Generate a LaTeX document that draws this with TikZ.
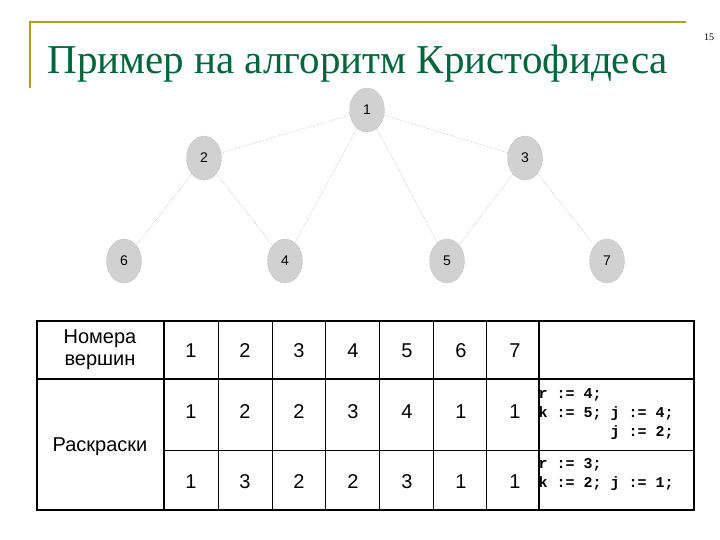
\documentclass[tikz,border=0pt]{standalone}
\usepackage{fontspec}
\setmainfont{Liberation Sans}
\newfontfamily\titlefont{Liberation Serif}
\newfontfamily\codefont{Liberation Mono}
\usetikzlibrary{shapes.geometric}
\definecolor{titlegreen}{RGB}{0,100,60}
\definecolor{gold}{RGB}{176,160,40}
\begin{document}
\begin{tikzpicture}[x=1pt,y=-1pt,
  vert/.style={ellipse,fill=black!18,draw=black!40,densely dotted,minimum width=35pt,minimum height=44pt,inner sep=0pt,font=\fontsize{14}{14}\selectfont},
  edge/.style={draw=black!40,densely dotted,thin},
  cell/.style={font=\fontsize{20}{22}\selectfont},
  code/.style={font=\codefont\bfseries\fontsize{15}{19}\selectfont,align=left,anchor=west}]
\useasboundingbox (0,0) rectangle (720,540);
\draw[gold,line width=1.5pt] (30,88) -- (30,22) -- (686,22);
\node[font=\titlefont\fontsize{10}{10}\selectfont] (pg) at (709,37) {15};
\node[font=\titlefont\fontsize{41}{41}\selectfont,text=titlegreen,anchor=west] (title) at (44,64) {Пример на алгоритм Кристофидеса};
\node[vert] (n1) at (367,110) {1};
\node[vert] (n2) at (204,158) {2};
\node[vert] (n3) at (525,158) {3};
\node[vert] (n6) at (124,261) {6};
\node[vert] (n4) at (285,261) {4};
\node[vert] (n5) at (447,261) {5};
\node[vert] (n7) at (607,261) {7};
\foreach \a/\b in {n1/n2,n1/n3,n1/n4,n1/n5,n2/n6,n2/n4,n3/n5,n3/n7}
  \draw[edge] (\a) -- (\b);
% table
\draw[line width=1.2pt] (37,321) rectangle (694,510);
\draw[line width=1.2pt] (37,379) -- (694,379);
\draw[thin] (164,450) -- (694,450);
\draw[line width=1.2pt] (164,321) -- (164,510);
\draw[line width=1.2pt] (539,321) -- (539,510);
\foreach \x in {218,272,325,379,433,486} \draw[thin] (\x,321) -- (\x,510);
\node[cell,align=center] (h) at (100,350) {Номера\\вершин};
\node[cell] (r) at (100,447) {Раскраски};
\foreach \v [count=\i] in {1,2,3,4,5,6,7} {
  \pgfmathsetmacro{\cx}{137+54*\i}
  \node[cell] (a\i) at (\cx,351) {\v};
}
\foreach \v [count=\i] in {1,2,2,3,4,1,1} {
  \pgfmathsetmacro{\cx}{137+54*\i}
  \node[cell] (b\i) at (\cx,412) {\v};
}
\foreach \v [count=\i] in {1,3,2,2,3,1,1} {
  \pgfmathsetmacro{\cx}{137+54*\i}
  \node[cell] (c\i) at (\cx,482) {\v};
}
\node[code] (k1) at (535,414) {r := 4;\\k := 5; j := 4;\\\phantom{k := 5; }j := 2;};
\node[code] (k2) at (535,475) {r := 3;\\k := 2; j := 1;};
\end{tikzpicture}
\end{document}
